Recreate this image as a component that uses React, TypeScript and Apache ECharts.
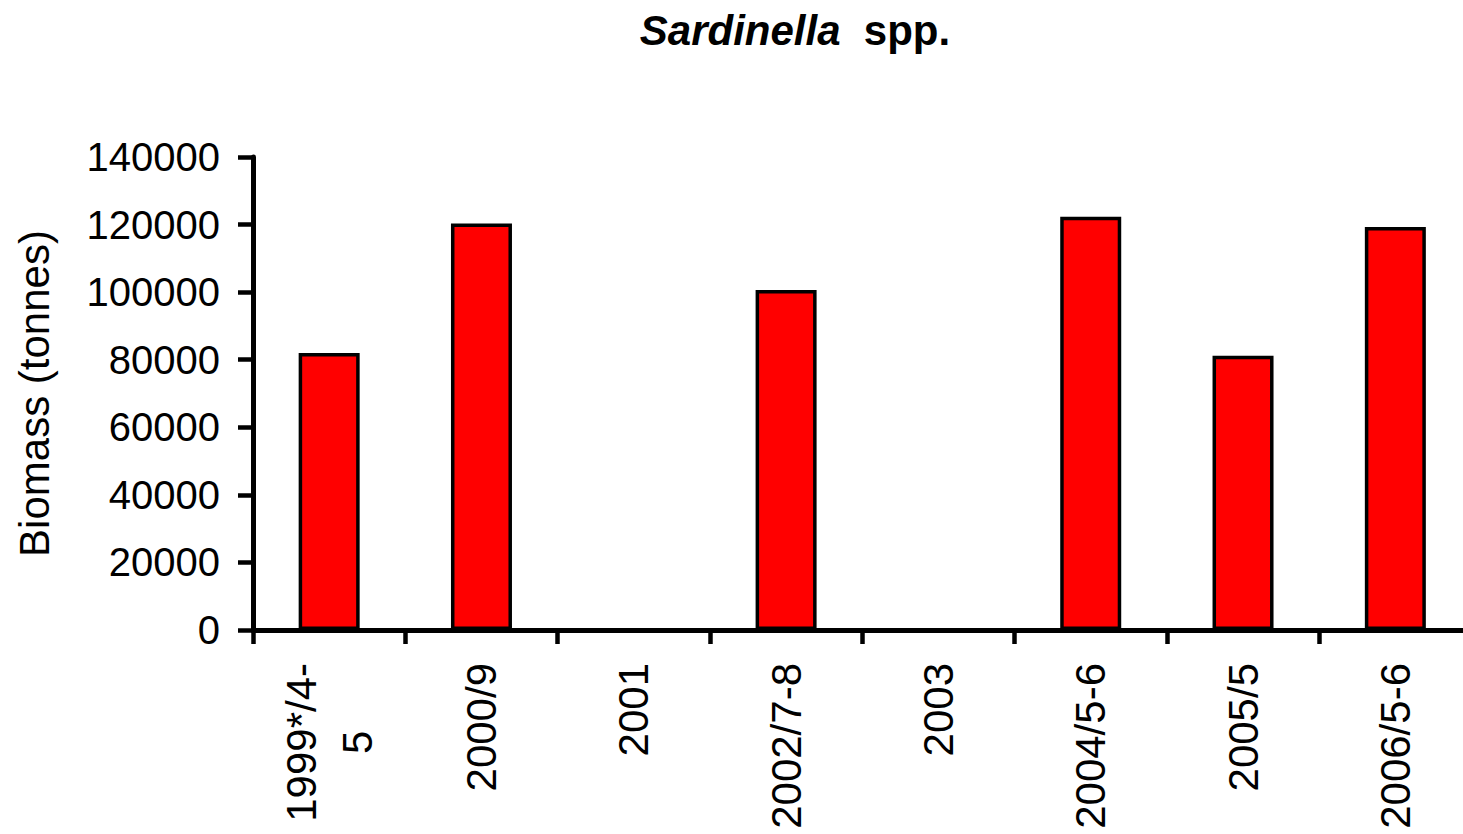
import React, { useEffect, useRef } from "react";
import * as echarts from "echarts";

const categories = ["1999*/4-\n5", "2000/9", "2001", "2002/7-8", "2003", "2004/5-6", "2005/5", "2006/5-6"];
const biomass: (number | null)[] = [82000, 120300, null, 100600, null, 122300, 81200, 119300];
const yTicks = { min: 0, max: 140000, interval: 20000 };

const FONT = "'Liberation Sans', Arial, Helvetica, sans-serif";

export default function App() {
  const ref = useRef<HTMLDivElement>(null);
  useEffect(() => {
    if (!ref.current) return;
    const chart = echarts.init(ref.current, null, { renderer: "svg" });
    chart.setOption({
      animation: false,
      backgroundColor: "#ffffff",
      title: {
        text: "{i|Sardinella}  {b|spp.}",
        left: 790,
        textAlign: "center",
        top: 4,
        textStyle: {
          fontSize: 42,
          fontFamily: FONT,
          rich: {
            i: { fontFamily: FONT, fontSize: 42, fontWeight: "bold", fontStyle: "italic", color: "#000" },
            b: { fontFamily: FONT, fontSize: 42, fontWeight: "bold", color: "#000" },
          },
        },
      },
      grid: {
        left: 253,
        top: 157,
        height: 473,
        width: 1218.5,
        containLabel: false,
        outerBoundsMode: "none",
      },
      xAxis: {
        type: "category",
        data: categories,
        axisLine: { lineStyle: { color: "#000", width: 5 } },
        axisTick: { show: true, interval: 0, alignWithLabel: false, length: 14, lineStyle: { color: "#000", width: 4.5 } },
        axisLabel: {
          rotate: 90,
          margin: 33,
          color: "#000",
          fontFamily: FONT,
          fontSize: 42,
          interval: 0,
          formatter: (v: string) => {
            if (v.indexOf("\n") >= 0) {
              const parts = v.split("\n");
              return "{a|" + parts[0] + "}\n{c|" + parts[1] + "}";
            }
            return v;
          },
          rich: {
            a: { fontFamily: FONT, fontSize: 42, color: "#000", lineHeight: 56 },
            c: { fontFamily: FONT, fontSize: 42, color: "#000", lineHeight: 56, align: "center" },
          },
        },
      },
      yAxis: {
        type: "value",
        min: yTicks.min,
        max: yTicks.max,
        interval: yTicks.interval,
        name: "Biomass (tonnes)",
        nameLocation: "middle",
        nameRotate: 90,
        nameGap: 198,
        nameTextStyle: { fontFamily: FONT, fontSize: 42, color: "#000" },
        axisLine: { show: true, lineStyle: { color: "#000", width: 5 } },
        axisTick: { show: true, length: 15, lineStyle: { color: "#000", width: 4.5 } },
        axisLabel: {
          margin: 33,
          color: "#000",
          fontFamily: FONT,
          fontSize: 40,
          formatter: (v: number) => String(v),
        },
        splitLine: { show: false },
      },
      series: [
        {
          type: "bar",
          data: biomass,
          barWidth: 61,
          itemStyle: { color: "#FF0000", borderColor: "#000", borderWidth: 3.5 },
        },
      ],
    });
    return () => chart.dispose();
  }, []);
  return (
    <div
      ref={ref}
      style={{ position: "absolute", left: 0, top: 0, width: 1463, height: 834, overflow: "hidden" }}
    />
  );
}
